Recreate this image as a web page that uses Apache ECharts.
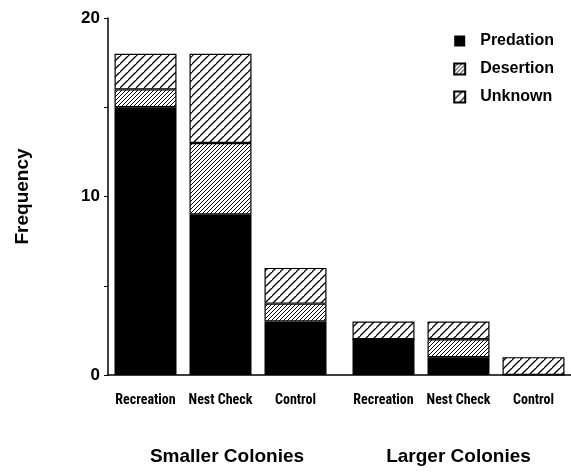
<!DOCTYPE html>
<html>
<head>
<meta charset="utf-8">
<script src="https://cdn.jsdelivr.net/npm/echarts@6/dist/echarts.min.js"></script>
<style>html,body{margin:0;padding:0;background:#fff}#c{width:571px;height:472px}</style>
</head>
<body>
<div id="c"></div>
<script>
// ---- data ----
const smallCategories = ['Recreation', 'Nest Check', 'Control'];
const largeCategories = ['Recreation', 'Nest Check', 'Control'];
const smallPredation = [15, 9, 3];
const smallDesertion = [1, 4, 1];
const smallUnknown = [2, 5, 2];
const largePredation = [2, 1, 0];
const largeDesertion = [0, 1, 0];
const largeUnknown = [1, 1, 1];
const yTickLabels = [0, 10, 20];
const groupNames = ['Smaller Colonies', 'Larger Colonies'];
const seriesNames = ['Predation', 'Desertion', 'Unknown'];

function hatch(step, lw) {
  const c = document.createElement('canvas');
  c.width = step; c.height = step;
  const g = c.getContext('2d');
  g.fillStyle = '#fff'; g.fillRect(0, 0, step, step);
  g.strokeStyle = '#000'; g.lineWidth = lw;
  g.beginPath();
  g.moveTo(-1, step + 1); g.lineTo(step + 1, -1);
  g.moveTo(-step - 1, step + 1); g.lineTo(1, -1);
  g.moveTo(step - 1, 2 * step + 1); g.lineTo(2 * step + 1, step - 1);
  g.stroke();
  return c;
}
const desertionFill = { image: hatch(4, 1), repeat: 'repeat' };
const unknownFill = { image: hatch(8, 1.3), repeat: 'repeat' };

const chart = echarts.init(document.getElementById('c'), null, { renderer: 'canvas' });
const gTop = 18, gBottom = 472 - 375;
const helv = 'Liberation Sans, Arial, Helvetica, sans-serif';
const labelFont = { fontFamily: 'Roboto Condensed, DejaVu Sans Condensed, sans-serif', fontSize: 14, fontWeight: 'bold', color: '#000' };
const nameFont = { fontFamily: helv, fontSize: 19, fontWeight: 'bold', color: '#000' };

function catAxis(gridIndex, data, name, pad) {
  return {
    type: 'category', gridIndex, data,
    axisLine: { show: false }, axisTick: { show: false },
    axisLabel: Object.assign({ margin: 18, interval: 0 }, labelFont),
    name, nameLocation: 'middle', nameGap: 72,
    nameTextStyle: Object.assign({ padding: pad }, nameFont)
  };
}
function hiddenY(gridIndex) {
  return { type: 'value', gridIndex, min: 0, max: 20, interval: 5, show: false, splitLine: { show: false } };
}
function mkSeries(xi, pred, des, unk, stack) {
  const base = { type: 'bar', stack, xAxisIndex: xi, yAxisIndex: xi, barWidth: 62 };
  return [
    Object.assign({}, base, { name: seriesNames[0], data: pred, itemStyle: { color: '#000' } }),
    Object.assign({}, base, { name: seriesNames[1], data: des, itemStyle: { color: desertionFill, borderColor: '#000', borderWidth: 1.2 } }),
    Object.assign({}, base, { name: seriesNames[2], data: unk, itemStyle: { color: unknownFill, borderColor: '#000', borderWidth: 1.2 } })
  ];
}

chart.setOption({
  animation: false,
  backgroundColor: '#fff',
  grid: [
    { left: 108, right: -3, top: gTop, bottom: gBottom },
    { left: 108, width: 225, top: gTop, bottom: gBottom },
    { left: 346, right: -3, top: gTop, bottom: gBottom }
  ],
  xAxis: [
    { type: 'category', gridIndex: 0, data: [''], axisLine: { show: true, lineStyle: { color: '#000', width: 1.5 } }, axisTick: { show: false }, axisLabel: { show: false } },
    catAxis(1, smallCategories, groupNames[0], [0, 0, 0, 13]),
    catAxis(2, largeCategories, groupNames[1], [0, 0, 0, 0])
  ],
  yAxis: [
    {
      type: 'value', gridIndex: 0, min: 0, max: 20, interval: 5,
      name: 'Frequency', nameLocation: 'middle', nameGap: 76, nameRotate: 90,
      nameTextStyle: nameFont,
      axisLine: { show: true, lineStyle: { color: '#000', width: 1.5 } },
      axisTick: { show: true, length: 4, lineStyle: { color: '#000' } },
      splitLine: { show: false },
      axisLabel: {
        margin: 8, fontFamily: helv, fontSize: 17, fontWeight: 'bold', color: '#000',
        formatter: v => (yTickLabels.indexOf(v) >= 0 ? String(v) : '')
      }
    },
    hiddenY(1), hiddenY(2)
  ],
  legend: {
    data: seriesNames, orient: 'vertical', right: 12, top: 28, icon: 'rect',
    itemWidth: 11, itemHeight: 11, itemGap: 12,
    textStyle: { fontFamily: helv, fontSize: 16, fontWeight: 'bold', color: '#000', padding: [0, 0, 0, 10] }
  },
  series: [].concat(
    mkSeries(1, smallPredation, smallDesertion, smallUnknown, 'small'),
    mkSeries(2, largePredation, largeDesertion, largeUnknown, 'large')
  )
});
</script>
</body>
</html>
